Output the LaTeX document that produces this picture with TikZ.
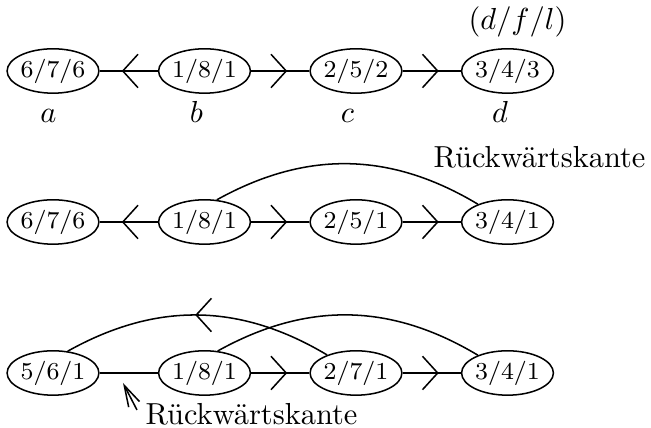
\documentclass[tikz,border=0pt]{standalone}
\usepackage{fontspec}
\usetikzlibrary{shapes.geometric,arrows.meta,decorations.markings}
\tikzset{
  vtx/.style={ellipse,draw,line width=0.5pt,minimum width=30.2pt,minimum height=14.6pt,
    inner sep=0pt,font=\rmfamily\fontsize{8}{9}\selectfont},
  barb/.tip={Straight Barb[length=5pt,width=11pt]},
  midarrow/.style={postaction={decorate,decoration={markings,
    mark=at position #1 with {\arrow{barb}}}}},
  conn/.style={line width=0.5pt},
  lbl/.style={inner sep=0pt}
}
\begin{document}
\begin{tikzpicture}[x=0.3289pt,y=-0.3289pt]
\useasboundingbox (0,0) rectangle (651,428);
% row 1
\node[vtx] (a1) at (53,71) {6/7/6};
\node[vtx] (b1) at (204.5,71) {1/8/1};
\node[vtx] (c1) at (356,71) {2/5/2};
\node[vtx] (d1) at (507.5,71) {3/4/3};
\draw[conn,midarrow=0.62] (b1) -- (a1);
\draw[conn,midarrow=0.62] (b1) -- (c1);
\draw[conn,midarrow=0.62] (c1) -- (d1);
\node[lbl,anchor=base] (la) at (48.5,123) {$a$};
\node[lbl,anchor=base] (lb) at (196.5,123) {$b$};
\node[lbl,anchor=base] (lc) at (347.5,123) {$c$};
\node[lbl,anchor=base] (ld) at (500,123) {$d$};
\node[lbl,anchor=base] (dfl) at (517.5,30) {$(d/f/l)$};
% row 2
\node[vtx] (a2) at (53,222) {6/7/6};
\node[vtx] (b2) at (204.5,222) {1/8/1};
\node[vtx] (c2) at (356,222) {2/5/1};
\node[vtx] (d2) at (507.5,222) {3/4/1};
\draw[conn,midarrow=0.62] (b2) -- (a2);
\draw[conn,midarrow=0.62] (b2) -- (c2);
\draw[conn,midarrow=0.62] (c2) -- (d2);
\draw[conn] (b2.61) to[bend left=30] (d2.149);
\node[lbl,anchor=base west] (rk1) at (433,168) {Rückwärtskante};
% row 3
\node[vtx] (a3) at (53,373) {5/6/1};
\node[vtx] (b3) at (204.5,373) {1/8/1};
\node[vtx] (c3) at (356,373) {2/7/1};
\node[vtx] (d3) at (507.5,373) {3/4/1};
\draw[conn] (a3) -- (b3);
\draw[conn,midarrow=0.62] (b3) -- (c3);
\draw[conn,midarrow=0.62] (c3) -- (d3);
\draw[conn,midarrow=0.51] (c3.148) to[bend right=30] (a3.56);
\draw[conn] (b3.59) to[bend left=30] (d3.149);
\node[lbl,anchor=base west] (rk2) at (145,425) {Rückwärtskante};
\coordinate (ptail) at (137,410);
\coordinate (ptip) at (123,383);
\draw[conn,-{Straight Barb[length=7pt,width=4pt]}] (ptail) -- (ptip);
\end{tikzpicture}
\end{document}
